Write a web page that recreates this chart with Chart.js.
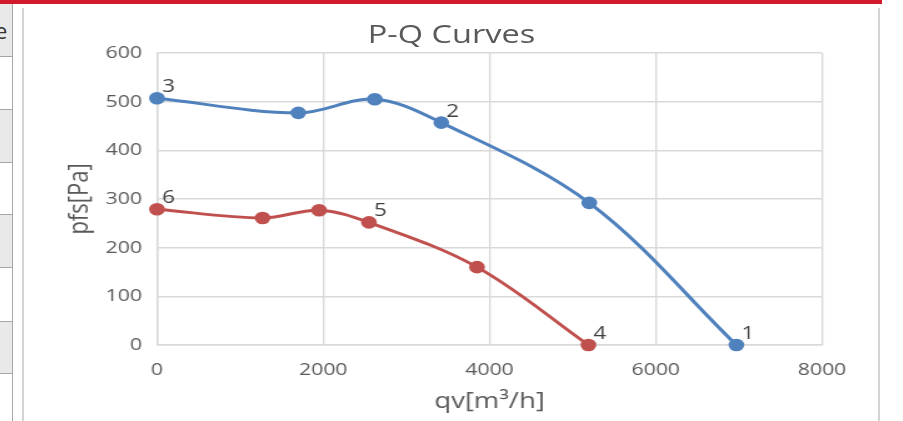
<!DOCTYPE html>
<html>
<head>
<meta charset="utf-8">
<script src="https://cdn.jsdelivr.net/npm/chart.js@4/dist/chart.umd.min.js"></script>
<style>
  html, body { margin: 0; padding: 0; background: #fff; }
  body { width: 903px; height: 421px; position: relative; overflow: hidden; font-family: "Open Sans", sans-serif; }
  .topbar { position: absolute; left: 0; top: 0; width: 882px; height: 4px; background: #d31a2c; }
  .cells { position: absolute; left: 0; top: 4px; width: 12px; height: 417px; border-right: 1px solid #a6a6a6; overflow: hidden; }
  .cell { position: absolute; left: 0; width: 12px; border-bottom: 1px solid #a6a6a6; overflow: hidden; }
  .cell.g { background: #e9e9e9; }
  .cell span { position: absolute; left: -5px; top: 13px; font-size: 22px; line-height: 26px; color: #333; }
  .vline { position: absolute; top: 8px; bottom: 0; width: 2px; background: #d4d4d4; }
  .wrap { position: absolute; left: 24px; top: 8px; width: 684px; height: 413px; transform: scaleX(1.25); transform-origin: 0 0; }
  .title { position: absolute; left: 0; top: 10px; width: 684px; text-align: center; font-size: 26px; line-height: 30px; color: #595959; }
  canvas { position: absolute; left: 0; top: 0; }
</style>
</head>
<body>
<div class="topbar"></div>
<div class="cells">
  <div class="cell g" style="top:0;height:52px"><span>e</span></div>
  <div class="cell" style="top:53px;height:52px"></div>
  <div class="cell g" style="top:106px;height:52px"></div>
  <div class="cell" style="top:159px;height:51px"></div>
  <div class="cell g" style="top:211px;height:52px"></div>
  <div class="cell" style="top:264px;height:53px"></div>
  <div class="cell g" style="top:318px;height:51px"></div>
</div>
<div class="vline" style="left:22px"></div>
<div class="vline" style="left:878px"></div>
<div class="wrap">
  <div class="title">P-Q Curves</div>
  <canvas id="chart" width="684" height="413"></canvas>
</div>
<script>
// curve 1 (blue)
const blueQ = [0, 1700, 2620, 3420, 5200, 6970];
const blueP = [507, 477, 505, 457, 292, 0];
const blueLabels = ['3', '', '', '2', '', '1'];
// curve 2 (red)
const redQ = [0, 1270, 1950, 2550, 3850, 5190];
const redP = [279, 261, 277, 252, 160, 0];
const redLabels = ['6', '', '', '5', '', '4'];

const xTicks = [0, 2000, 4000, 6000, 8000];
const yTicks = [0, 100, 200, 300, 400, 500, 600];

const BLUE = '#4f81bd';
const RED = '#c0504d';
const GRID = '#d9d9d9';
const TEXT = '#595959';

function toPoints(xs, ys) {
  return xs.map((x, i) => ({ x: x, y: ys[i] }));
}

function series(xs, ys, labels, color) {
  return {
    data: toPoints(xs, ys),
    pointLabels: labels,
    borderColor: color,
    backgroundColor: color,
    borderWidth: 3,
    pointRadius: 6.3,
    pointHoverRadius: 6.3,
    pointBorderWidth: 0,
    tension: 0.35,
    clip: false,
    fill: false
  };
}

// point numbers next to markers
const pointNumbers = {
  id: 'pointNumbers',
  afterDatasetsDraw(chart) {
    const ctx = chart.ctx;
    ctx.save();
    ctx.font = '18px "Open Sans"';
    ctx.fillStyle = '#404040';
    ctx.textAlign = 'left';
    ctx.textBaseline = 'middle';
    chart.data.datasets.forEach((ds, i) => {
      chart.getDatasetMeta(i).data.forEach((pt, j) => {
        const txt = ds.pointLabels[j];
        if (txt) ctx.fillText(txt, pt.x + 4, pt.y - 11);
      });
    });
    ctx.restore();
  }
};

new Chart(document.getElementById('chart'), {
  type: 'line',
  data: {
    datasets: [
      series(blueQ, blueP, blueLabels, BLUE),
      series(redQ, redP, redLabels, RED)
    ]
  },
  options: {
    responsive: false,
    animation: false,
    devicePixelRatio: 1,
    layout: { padding: { top: 45, right: 45.6, left: 0, bottom: 0 } },
    plugins: {
      legend: { display: false },
      tooltip: { enabled: false }
    },
    scales: {
      x: {
        type: 'linear',
        min: xTicks[0],
        max: xTicks[xTicks.length - 1],
        afterBuildTicks: (scale) => { scale.ticks = xTicks.map(v => ({ value: v })); },
        afterFit: (scale) => { scale.height = 76; },
        grid: { color: GRID, lineWidth: 1.4, drawTicks: false },
        border: { color: GRID, width: 1.4 },
        ticks: {
          color: TEXT, font: { family: 'Open Sans', size: 17 }, padding: 15, maxRotation: 0,
          callback: (v) => String(v)
        },
        title: {
          display: true,
          text: 'qv[m³/h]',
          color: TEXT,
          font: { family: 'Open Sans', size: 22 },
          padding: { top: 0, bottom: 6 }
        }
      },
      y: {
        min: yTicks[0],
        max: yTicks[yTicks.length - 1],
        afterBuildTicks: (scale) => { scale.ticks = yTicks.map(v => ({ value: v })); },
        afterFit: (scale) => { scale.width = 106.4; },
        grid: { color: GRID, lineWidth: 1.4, drawTicks: false },
        border: { color: GRID, width: 1.4 },
        ticks: { color: TEXT, font: { family: 'Open Sans', size: 17 }, padding: 12, callback: (v) => String(v) },
        title: {
          display: true,
          text: 'pfs[Pa]',
          color: TEXT,
          font: { family: 'Open Sans', size: 22 },
          padding: { top: 31.6, bottom: 0 }
        }
      }
    }
  },
  plugins: [pointNumbers]
});
</script>
</body>
</html>
